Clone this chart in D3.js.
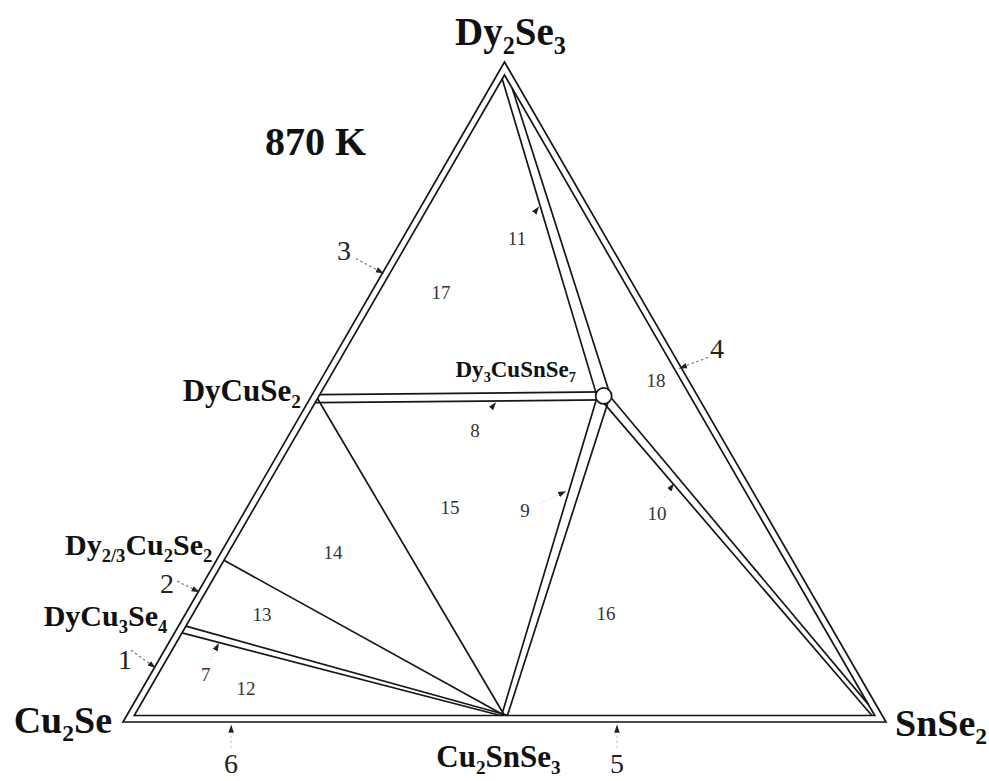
<!DOCTYPE html>
<html><head><meta charset="utf-8">
<script src="https://cdn.jsdelivr.net/npm/d3@7"></script>
<style>body{margin:0;background:#fff}svg{display:block}</style>
</head><body>
<svg id="chart" width="989" height="781"></svg>
<script>
// ================= DATA =================
// Phases (mole fractions of the three corner components)
const phaseNames   = ["Cu2Se","Dy2Se3","SnSe2","DyCuSe2","Dy2/3Cu2Se2","DyCu3Se4","Cu2SnSe3","Dy3CuSnSe7"];
const phaseLabels  = ["Cu_{2}Se","Dy_{2}Se_{3}","SnSe_{2}","DyCuSe_{2}","Dy_{2/3}Cu_{2}Se_{2}","DyCu_{3}Se_{4}","Cu_{2}SnSe_{3}","Dy_{3}CuSnSe_{7}"];
const phaseCu2Se   = [1, 0, 0, 0.505, 0.75, 0.855, 0.5, 0.123];
const phaseDy2Se3  = [0, 1, 0, 0.495, 0.25, 0.145, 0,   0.494];
const phaseSnSe2   = [0, 0, 1, 0,     0,    0,     0.5, 0.383];

// Two-phase strips inside the triangle
const stripNames = ["8","9","10","11","7"];
const stripFrom  = ["DyCuSe2","Dy3CuSnSe7","Dy3CuSnSe7","Dy3CuSnSe7","DyCu3Se4"];
const stripTo    = ["Dy3CuSnSe7","Cu2SnSe3","SnSe2","Dy2Se3","Cu2SnSe3"];

// Single tie lines
const tieFrom = ["DyCuSe2","Dy2/3Cu2Se2"];
const tieTo   = ["Cu2SnSe3","Cu2SnSe3"];

// Region numbers (ternary position of the label: Dy2Se3, SnSe2 fractions)
const regionNames  = ["11","17","18","8","15","9","10","14","13","16","7","12"];
const regionDy2Se3 = [0.7324,0.6507,0.5176,0.4419,0.3254,0.3208,0.3163,0.2573,0.1634,0.1650,0.0727,0.0515];
const regionSnSe2  = [0.1502,0.0914,0.4398,0.2404,0.2659,0.3665,0.5418,0.1466,0.1005,0.5505,0.0722,0.1355];

// Edge strip numbers with arrows
const edgeNames     = ["1","2","3","4","5","6"];
const edgeLblDy2Se3 = [0.0953,0.2104,0.7143,0.566,-0.0636,-0.0636];
const edgeLblSnSe2  = [-0.0451,-0.0475,-0.0676,0.4955,0.6792,0.1733];
const edgeTailDy2Se3= [0.109,0.2134,0.7022,0.5524,-0.0393,-0.0393];
const edgeTailSnSe2 = [-0.044,-0.0359,-0.0457,0.4905,0.6671,0.1612];
const edgeTipDy2Se3 = [0.0817,0.1967,0.6795,0.5357,-0.004,-0.004];
const edgeTipSnSe2  = [0.002,0.002,0.002,0.461,0.6494,0.1438];

// Small pointer arrows for strips 7-11
const ptrNames      = ["7","8","9","10","11"];
const ptrTailDy2Se3 = [0.0938,0.4691,0.3314,0.3405,0.7627];
const ptrTailSnSe2  = [0.0671,0.2438,0.3808,0.5388,0.152];
const ptrTipDy2Se3  = [0.1196,0.4843,0.3496,0.3617,0.7809];
const ptrTipSnSe2   = [0.066,0.2468,0.4058,0.5413,0.1548];

const tempLabel = "870 K";

// ================= STYLE / LAYOUT =================
const FONT = "'Liberation Serif','Times New Roman',serif";
const LINE = "#161616", LW = 1.7;
const INSET = 6.5;          // width of edge strips (px)
const stripWidth = {"8":[8,8],"9":[12,5],"10":[9,4],"11":[13,6],"7":[8,1.5]};
const edgeArrowColor = {"1":"#777","2":"#777","3":"#777","4":"#777","5":"#ccc","6":"#ccc"};
const phaseLabelLayout = {
  "Cu2Se":      {dx:-11, dy:11, anchor:"end",    size:38},
  "Dy2Se3":     {dx:6,   dy:-17,anchor:"middle", size:39},
  "SnSe2":      {dx:9,   dy:14, anchor:"start",  size:38},
  "DyCuSe2":    {dx:-11, dy:6,  anchor:"end",    size:31},
  "Dy2/3Cu2Se2":{dx:-6,  dy:-2, anchor:"end",    size:30},
  "DyCu3Se4":   {dx:-11, dy:0,  anchor:"end",    size:30},
  "Cu2SnSe3":   {dx:-6,  dy:45, anchor:"middle", size:31},
  "Dy3CuSnSe7": {dx:-88, dy:-19,anchor:"middle", size:23}
};

// ================= SCALES =================
const svg = d3.select("#chart");
const R3 = Math.sqrt(3)/2;
const sx = d3.scaleLinear().domain([0,1]).range([123,886]);
const sy = d3.scaleLinear().domain([0,R3]).range([722,62]);
function proj(a,c){ return [sx(c + a/2), sy(a*R3)]; }

const Apx = proj(1,0), Bpx = proj(0,0), Cpx = proj(0,1);
const corners = [Bpx, Apx, Cpx];
const cen = [(Apx[0]+Bpx[0]+Cpx[0])/3, (Apx[1]+Bpx[1]+Cpx[1])/3];
function unit(v){ const l=Math.hypot(v[0],v[1]); return [v[0]/l,v[1]/l]; }
const inner = corners.map(p=>{ const u=unit([cen[0]-p[0],cen[1]-p[1]]); return [p[0]+u[0]*2*INSET, p[1]+u[1]*2*INSET]; });

const idx = n => phaseNames.indexOf(n);
function isBoundary(i){ return [phaseCu2Se[i],phaseDy2Se3[i],phaseSnSe2[i]].some(v=>v<1e-9); }
function anchor(i){
  const fr=[phaseCu2Se[i],phaseDy2Se3[i],phaseSnSe2[i]];
  const P = proj(phaseDy2Se3[i], phaseSnSe2[i]);
  const zeros = fr.map((v,k)=>v<1e-9?k:-1).filter(k=>k>=0);
  if (zeros.length===2){ const k=fr.findIndex(v=>v>0.999); return inner[k]; }
  if (zeros.length===1){
    const k=zeros[0]; const o=[0,1,2].filter(j=>j!==k);
    const mid=[(corners[o[0]][0]+corners[o[1]][0])/2,(corners[o[0]][1]+corners[o[1]][1])/2];
    const n=unit([corners[k][0]-mid[0],corners[k][1]-mid[1]]);
    return [P[0]+n[0]*INSET, P[1]+n[1]*INSET];
  }
  return P;
}
function clipToPoly(p0,p1,poly){
  const cx=d3.mean(poly,d=>d[0]), cy=d3.mean(poly,d=>d[1]);
  let t0=0,t1=1; const dx=p1[0]-p0[0], dy=p1[1]-p0[1];
  for(let i=0;i<poly.length;i++){
    const a=poly[i], b=poly[(i+1)%poly.length];
    let nx=-(b[1]-a[1]), ny=b[0]-a[0];
    if(nx*(cx-a[0])+ny*(cy-a[1])<0){nx=-nx;ny=-ny;}
    const num=nx*(p0[0]-a[0])+ny*(p0[1]-a[1]);
    const den=nx*dx+ny*dy;
    if(Math.abs(den)<1e-9){ if(num<0) return null; continue; }
    const t=-num/den;
    if(den>0) t0=Math.max(t0,t); else t1=Math.min(t1,t);
    if(t0>t1) return null;
  }
  return [[p0[0]+t0*dx,p0[1]+t0*dy],[p0[0]+t1*dx,p0[1]+t1*dy]];
}
const line = d3.line();
const gLines = svg.append("g").attr("fill","none").attr("stroke",LINE).attr("stroke-width",LW).attr("stroke-linejoin","miter");

// outer triangle + inner (edge strips)
gLines.append("path").attr("d", line(corners)+"Z");
gLines.append("path").attr("d", line(inner)+"Z");

// two-phase strips
stripNames.forEach((nm,k)=>{
  const i=idx(stripFrom[k]), j=idx(stripTo[k]);
  const P=anchor(i), Q=anchor(j);
  const d=unit([Q[0]-P[0],Q[1]-P[1]]), n=[-d[1],d[0]];
  const [wp,wq]=stripWidth[nm];
  [1,-1].forEach(s=>{
    let p0=[P[0]+n[0]*s*wp/2, P[1]+n[1]*s*wp/2];
    let p1=[Q[0]+n[0]*s*wq/2, Q[1]+n[1]*s*wq/2];
    if(isBoundary(i)) p0=[p0[0]-d[0]*30,p0[1]-d[1]*30];
    if(isBoundary(j)) p1=[p1[0]+d[0]*30,p1[1]+d[1]*30];
    const seg=clipToPoly(p0,p1,inner);
    if(seg) gLines.append("path").attr("d",line(seg));
  });
});
// single tie lines
tieFrom.forEach((f,k)=>{
  const i=idx(f), j=idx(tieTo[k]);
  const P=anchor(i), Q=anchor(j);
  const d=unit([Q[0]-P[0],Q[1]-P[1]]);
  const seg=clipToPoly([P[0]-d[0]*30,P[1]-d[1]*30],[Q[0]+d[0]*30,Q[1]+d[1]*30],inner);
  if(seg) gLines.append("path").attr("d",line(seg));
});
// quaternary compound marker
{
  const i=idx("Dy3CuSnSe7"); const P=proj(phaseDy2Se3[i],phaseSnSe2[i]);
  svg.append("circle").attr("cx",P[0]).attr("cy",P[1]).attr("r",8).attr("fill","#fff").attr("stroke",LINE).attr("stroke-width",LW);
}

// arrows
const defs=svg.append("defs");
defs.append("marker").attr("id","ah").attr("viewBox","0 0 10 10").attr("refX",10).attr("refY",5)
  .attr("markerWidth",8).attr("markerHeight",8).attr("markerUnits","userSpaceOnUse").attr("orient","auto")
  .append("path").attr("d","M0,1.5 L10,5 L0,8.5 Z").attr("fill","#222");
edgeNames.forEach((nm,k)=>{
  const t=proj(edgeTailDy2Se3[k],edgeTailSnSe2[k]), h=proj(edgeTipDy2Se3[k],edgeTipSnSe2[k]);
  svg.append("path").attr("d",line([t,h])).attr("stroke",edgeArrowColor[nm]).attr("stroke-width",1.2)
    .attr("stroke-dasharray","2.5,2.5").attr("fill","none").attr("marker-end","url(#ah)");
  const L=proj(edgeLblDy2Se3[k],edgeLblSnSe2[k]);
  svg.append("text").attr("x",L[0]).attr("y",L[1]).attr("text-anchor","middle").attr("dominant-baseline","central")
    .attr("font-family",FONT).attr("font-size",28).attr("fill","#222").text(nm);
});
ptrNames.forEach((nm,k)=>{
  const t=proj(ptrTailDy2Se3[k],ptrTailSnSe2[k]), h=proj(ptrTipDy2Se3[k],ptrTipSnSe2[k]);
  svg.append("path").attr("d",line([t,h])).attr("stroke","#ccc").attr("stroke-width",1)
    .attr("stroke-dasharray","1.5,2").attr("fill","none").attr("marker-end","url(#ah)");
});

// region numbers
regionNames.forEach((nm,k)=>{
  const p=proj(regionDy2Se3[k],regionSnSe2[k]);
  svg.append("text").attr("x",p[0]).attr("y",p[1]).attr("text-anchor","middle").attr("dominant-baseline","central")
    .attr("font-family",FONT).attr("font-size",19).attr("fill","#333").text(nm);
});

// formula labels
function formula(sel,str,size){
  const parts=str.split(/(_\{[^}]*\})/).filter(s=>s.length);
  let low=false;
  parts.forEach(p=>{
    const m=p.match(/^_\{([^}]*)\}$/);
    if(m){ sel.append("tspan").attr("font-size",size*0.62).attr("dy",low?0:size*0.22).text(m[1]); low=true; }
    else { sel.append("tspan").attr("font-size",size).attr("dy",low?-size*0.22:0).text(p); low=false; }
  });
}
phaseNames.forEach((nm,i)=>{
  const L=phaseLabelLayout[nm]; const P=proj(phaseDy2Se3[i],phaseSnSe2[i]);
  const t=svg.append("text").attr("x",P[0]+L.dx).attr("y",P[1]+L.dy).attr("text-anchor",L.anchor)
    .attr("font-family",FONT).attr("font-weight","bold").attr("font-size",L.size).attr("fill","#111");
  formula(t,phaseLabels[i],L.size);
});
svg.append("text").attr("x",265).attr("y",155).attr("font-family",FONT).attr("font-weight","bold")
  .attr("font-size",40).attr("fill","#111").text(tempLabel);
</script>
</body></html>
